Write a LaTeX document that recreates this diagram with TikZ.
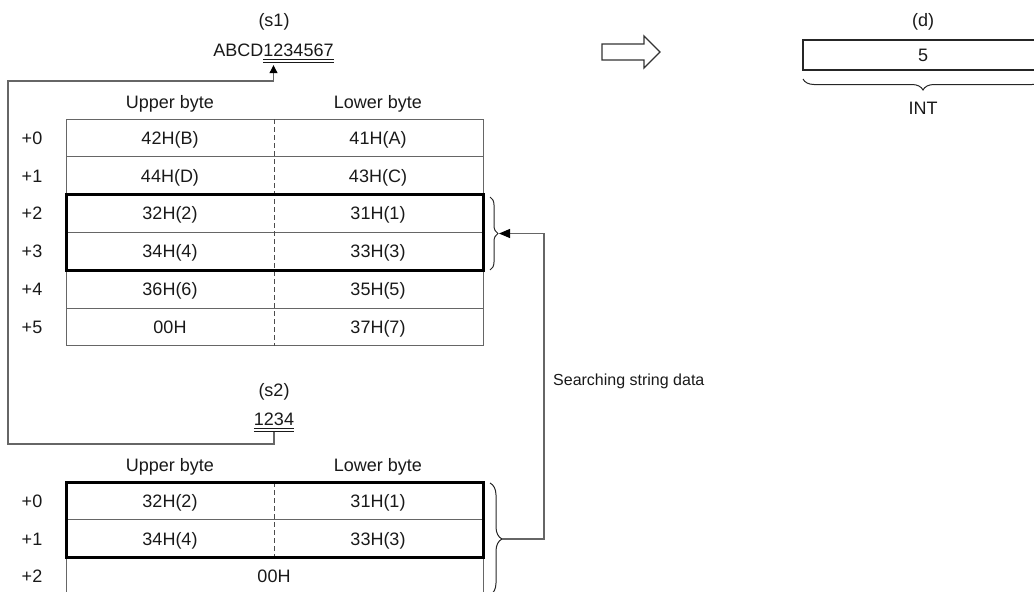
\documentclass[tikz,border=0pt]{standalone}
\usepackage{fontspec}
\setmainfont{Liberation Sans}
\usetikzlibrary{arrows.meta,decorations.pathreplacing}
\newcommand\dblline[1]{\setbox0=\hbox{#1}\rlap{\rule[-3pt]{\wd0}{.9pt}}\rlap{\rule[-6pt]{\wd0}{.9pt}}\box0}
\tikzset{
  gridline/.style={line width=1pt,draw=black!60},
  thickbox/.style={line width=3pt,draw=black},
  midline/.style={line width=1pt,draw=black!70,dash pattern=on 5pt off 3pt},
  conn/.style={line width=1.1pt,draw=black!60},
  lbl/.style={inner sep=0pt,text=black!90,text height=12.9pt,text depth=0pt},
  str/.style={inner sep=0pt,text=black!90,anchor=base},
  brc/.style={line width=1pt,draw=black!85,decorate,decoration={brace,amplitude=#1}},
}
\begin{document}
\begin{tikzpicture}[x=1pt,y=-1pt,font=\fontsize{18}{21}\selectfont]
\useasboundingbox (0,0) rectangle (1034,592);
\node[lbl] (s1lbl) at (274,20) {(s1)};
\node[str] (s1str) at (273.5,56.5) {ABCD\dblline{1234567}};
\node[lbl] (hu1) at (170,102) {Upper byte};
\node[lbl] (hl1) at (378,102) {Lower byte};
\draw[gridline] (66,119) rectangle (483,345.8);
\foreach \y in {156.8,194.6,232.4,270.2,308} \draw[gridline] (66,\y) -- (483,\y);
\draw[midline] (274,119) -- (274,345.8);
\draw[thickbox] (66,194.6) rectangle (483,270.2);
\foreach \i/\up/\lo in {0/42H(B)/41H(A),1/44H(D)/43H(C),2/32H(2)/31H(1),3/34H(4)/33H(3),4/36H(6)/35H(5),5/00H/37H(7)} {
  \node[lbl] (ofsa\i) at (32,137.9+37.8*\i) {+\i};
  \node[lbl] (upa\i) at (170,137.9+37.8*\i) {\up};
  \node[lbl] (loa\i) at (378,137.9+37.8*\i) {\lo};
}
\draw[brc=8pt] (490,197) -- (490,270);
\coordinate (ttip) at (499,233.5);
\node[lbl] (s2lbl) at (274,390) {(s2)};
\node[str] (s2str) at (274,425.5) {\dblline{1234}};
\node[lbl] (hu2) at (170,465) {Upper byte};
\node[lbl] (hl2) at (378,465) {Lower byte};
\draw[gridline] (66,482) rectangle (483,595.4);
\foreach \y in {519.8,557.6} \draw[gridline] (66,\y) -- (483,\y);
\draw[midline] (274,482) -- (274,557.6);
\draw[thickbox] (66,482) rectangle (483,557.6);
\foreach \i/\up/\lo in {0/32H(2)/31H(1),1/34H(4)/33H(3)} {
  \node[lbl] (ofsb\i) at (32,500.9+37.8*\i) {+\i};
  \node[lbl] (upb\i) at (170,500.9+37.8*\i) {\up};
  \node[lbl] (lob\i) at (378,500.9+37.8*\i) {\lo};
}
\node[lbl] (ofsb2) at (32,576.5) {+2};
\node[lbl] (nul2) at (274,576.5) {00H};
\draw[brc=12pt] (490,483) -- (490,595);
\coordinate (btip) at (502,539);
\draw[conn,-{Triangle[length=8pt,width=8pt,color=black]}] (s2str.south) |- (8,444) -- (8,81) -| ([yshift=-2.5pt]s1str.south);
\draw[conn,-{Triangle[length=11pt,width=9pt,color=black]}] (btip) -- (544,539) |- (ttip);
\node[lbl,anchor=west,font=\fontsize{16}{19}\selectfont] (srch) at (553,379) {Searching string data};
\draw[line width=1.3pt,draw=black!80,line join=miter] (602,44) -- (644,44) -- (644,36) -- (660,52) -- (644,68) -- (644,60) -- (602,60) -- cycle;
\node[lbl] (dlbl) at (923,20) {(d)};
\draw[line width=1.6pt,draw=black!85] (803,40) rectangle (1043,70);
\node[lbl] (dval) at (923,55) {5};
\draw[brc=11pt] (1043,79) -- (803,79);
\node[lbl] (dtype) at (923,108) {INT};
\end{tikzpicture}
\end{document}
